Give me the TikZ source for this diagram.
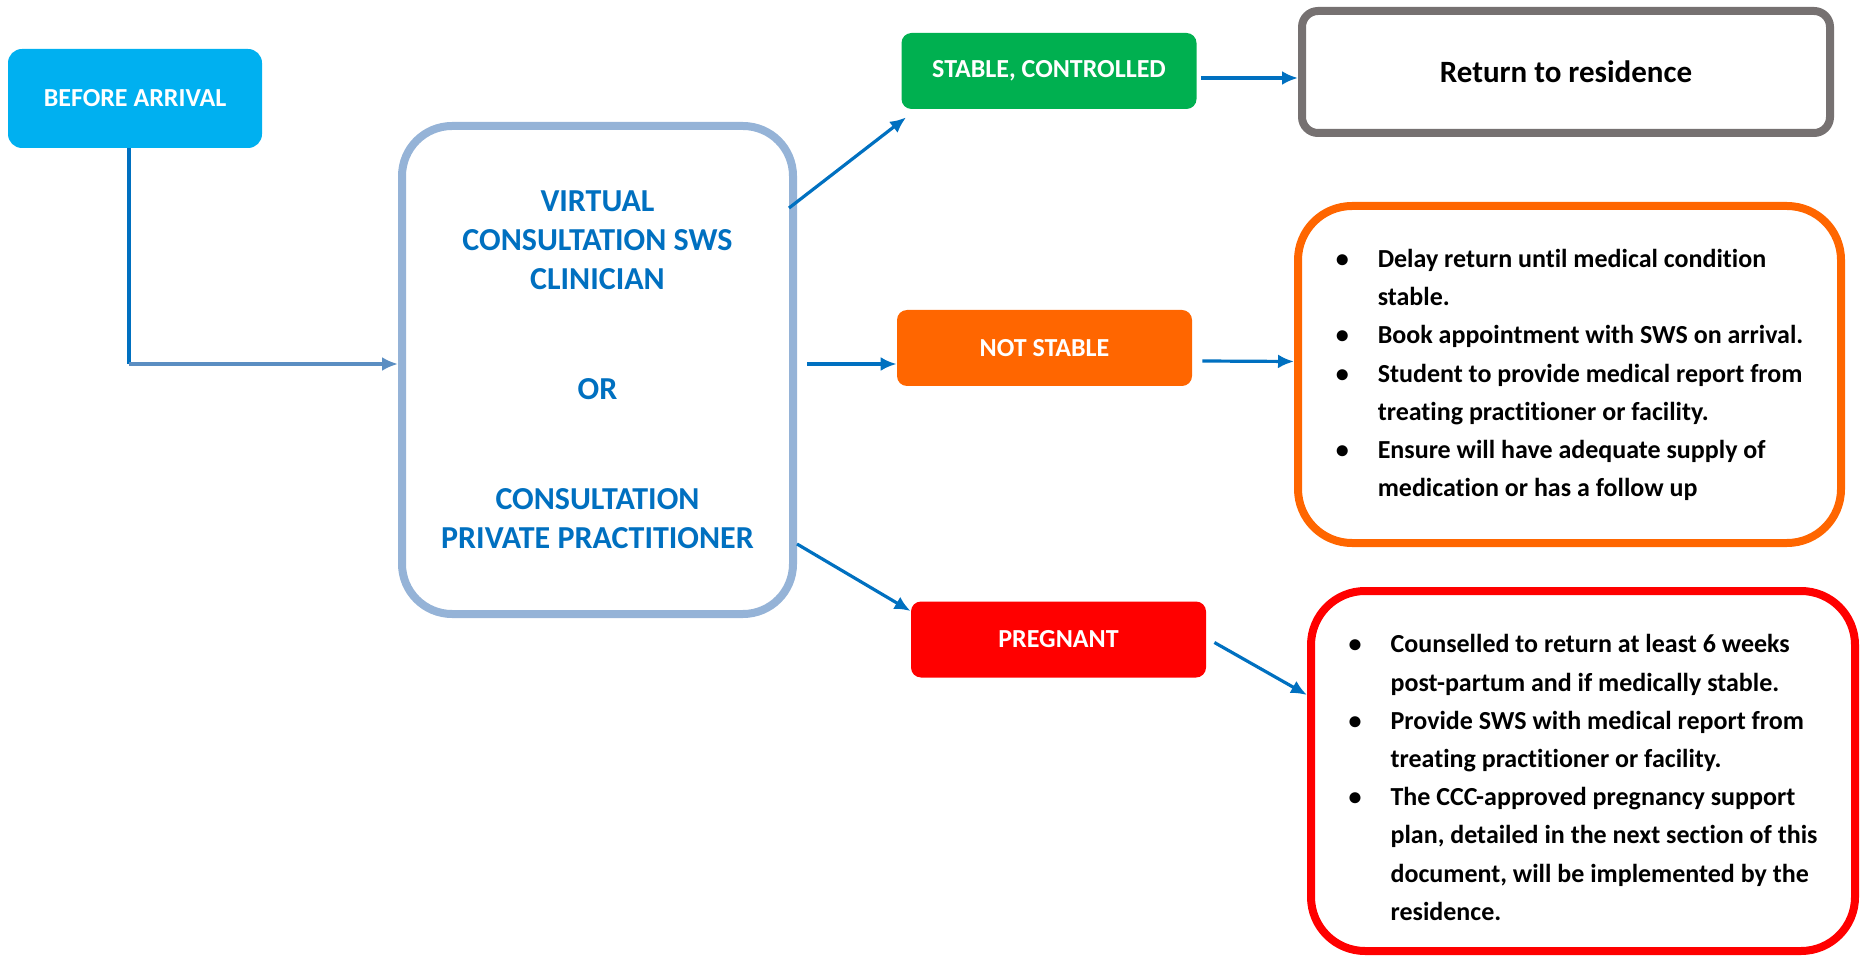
\documentclass[tikz,border=0pt]{standalone}
\usepackage{fontspec}
\setmainfont{Carlito}[Ligatures=NoCommon]
\usetikzlibrary{arrows.meta}
\definecolor{skyfill}{HTML}{00B0F0}
\definecolor{okgreen}{HTML}{00B050}
\definecolor{warnorange}{HTML}{FF6600}
\definecolor{alertred}{HTML}{FF0000}
\definecolor{frameblue}{HTML}{95B3D7}
\definecolor{linkblue}{HTML}{0070C0}
\definecolor{steel}{HTML}{5B8EC2}
\definecolor{slate}{HTML}{767171}
\begin{document}
\begin{tikzpicture}[x=0.5pt,y=-0.5pt,
  tag/.style={rounded corners=5pt, text=white, font=\fontsize{13}{16}\selectfont\bfseries,
    minimum width=147.5pt, minimum height=38pt, inner sep=0pt},
  frame/.style={rounded corners=27pt, line width=4pt, fill=white, inner sep=0pt},
  notes/.style={frame, font=\fontsize{13}{19.1}\selectfont\bfseries},
  flow/.style={draw=linkblue, line width=1.6pt, -{Latex[length=8pt,width=7pt]}}]
\useasboundingbox (0,0) rectangle (1861,956);
%\draw[help lines,gray,step=100] (0,0) grid (1861,956);
\node[tag, fill=skyfill, minimum width=127pt, minimum height=49.5pt, rounded corners=7pt] (arr) at (135,98.5) {BEFORE ARRIVAL};
\node[frame, draw=frameblue, text=linkblue, minimum width=195.5pt, minimum height=244pt,
  rounded corners=25pt, align=center, font=\fontsize{16}{19.5}\selectfont\bfseries] (main) at (597.5,370)
  {VIRTUAL\\CONSULTATION SWS\\CLINICIAN\\[35.5pt]OR\\[35.5pt]CONSULTATION\\PRIVATE PRACTITIONER};
\node[tag, fill=okgreen] (stable) at (1049,71) {STABLE, CONTROLLED};
\node[tag, fill=warnorange] (nots) at (1044.5,348) {NOT STABLE};
\node[tag, fill=alertred] (preg) at (1058.5,639.5) {PREGNANT};
\node[frame, draw=slate, rounded corners=8pt, minimum width=264pt, minimum height=61pt,
  font=\fontsize{15.5}{19}\selectfont\bfseries] (ret) at (1566,72) {Return to residence};
\node[notes, draw=warnorange, minimum width=271.5pt, minimum height=168.5pt] (delay) at (1569.5,374.5)
  {\begin{tabular}{@{}p{21pt}@{}l@{}}
  \textbullet & Delay return until medical condition\\
   & stable.\\
  \textbullet & Book appointment with SWS on arrival.\\
  \textbullet & Student to provide medical report from\\
   & treating practitioner or facility.\\
  \textbullet & Ensure will have adequate supply of\\
   & medication or has a follow up
  \end{tabular}};
\node[notes, draw=alertred, minimum width=272pt, minimum height=180pt] (cares) at (1583,771)
  {\raisebox{-4pt}[\height][\depth]{\begin{tabular}{@{}p{21pt}@{}l@{}}
  \textbullet & Counselled to return at least 6 weeks\\
   & post-partum and if medically stable.\\
  \textbullet & Provide SWS with medical report from\\
   & treating practitioner or facility.\\
  \textbullet & The CCC-approved pregnancy support\\
   & plan, detailed in the next section of this\\
   & document, will be implemented by the\\
   & residence.
  \end{tabular}}};
% connectors
\coordinate (bend) at (129,364);
\draw[draw=linkblue, line width=1.6pt] ([xshift=-3pt]arr.south) -- (bend);
\draw[flow, draw=steel] (bend) -- ([yshift=3pt]main.west);
\draw[flow] ([xshift=-4pt,yshift=81pt]main.east) -- ([xshift=2.5pt,yshift=-4pt]stable.south west);
\draw[flow] ([xshift=5pt,yshift=3pt]main.east) -- ([yshift=-8pt]nots.west);
\draw[flow] ([yshift=-87pt]main.east) -- ([yshift=-5pt]preg.north west);
\draw[flow] ([xshift=2pt,yshift=-3.5pt]stable.east) -- ([yshift=-3pt]ret.west);
\draw[flow] ([xshift=5pt,yshift=-6.5pt]nots.east) -- ([yshift=6.5pt]delay.west);
\draw[flow] ([xshift=4pt,yshift=-1.5pt]preg.east) -- ([yshift=38pt]cares.west);
\end{tikzpicture}
\end{document}
